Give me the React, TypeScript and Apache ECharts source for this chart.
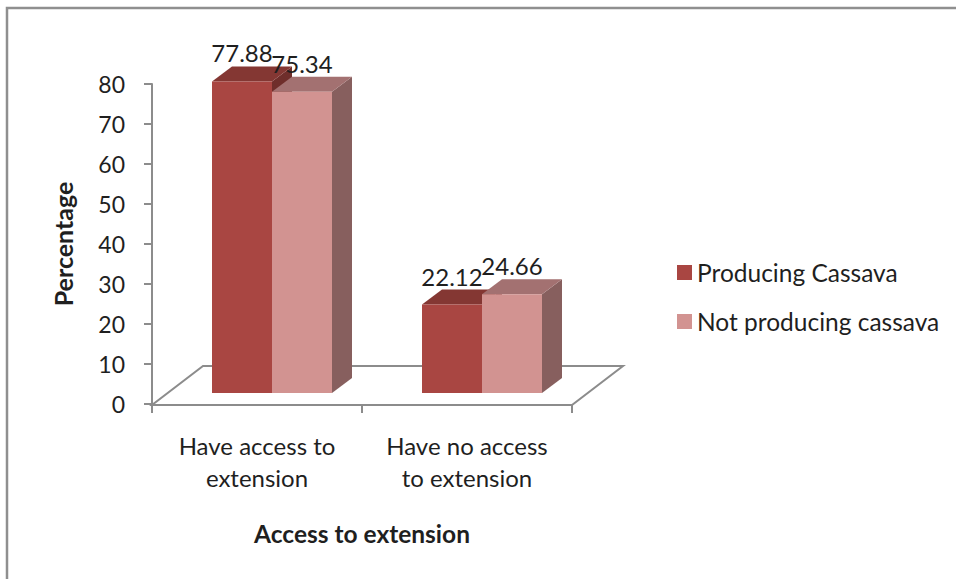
import React, { useEffect, useRef } from "react";
import * as echarts from "echarts";

const categories = ["Have access to\nextension", "Have no access\nto extension"];
const producing = [77.88, 22.12];
const notProducing = [75.34, 24.66];
const yTicks = { min: 0, max: 80, interval: 10 };

const seriesNames = ["Producing Cassava", "Not producing cassava"];
const FONT = "Lato, Carlito, sans-serif";
const AXIS_COLOR = "#8c8c8c";
const TEXT_COLOR = "#1f1f1f";

// Bars stand on a floor raised behind the axis plane, so each is nudged back
// from its band centre before the depth faces are added.
const FLOOR_SHIFT = { x: 15, y: -11 };
const DEPTH = { x: 20, y: -15 };
const BAR_RATIO = 60 / 210;

const palettes = [
  { front: "#a94642", top: "#843733", side: "#6f2e2b" },
  { front: "#d29391", top: "#a37171", side: "#875f5e" },
];

function prism(seriesIndex: number) {
  const colors = palettes[seriesIndex];
  return (_params: any, api: any) => {
    const cat = api.value(0);
    const val = api.value(1);
    const band = api.size([1, 0])[0];
    const w = band * BAR_RATIO;
    const top = api.coord([cat, val]);
    const base = api.coord([cat, 0]);
    const x0 = top[0] + FLOOR_SHIFT.x + (seriesIndex === 0 ? -w : 0);
    const x1 = x0 + w;
    const yTop = top[1] + FLOOR_SHIFT.y;
    const yBase = base[1] + FLOOR_SHIFT.y;
    const dx = DEPTH.x;
    const dy = DEPTH.y;
    return {
      type: "group",
      children: [
        {
          type: "polygon",
          shape: { points: [[x1, yTop], [x1 + dx, yTop + dy], [x1 + dx, yBase + dy], [x1, yBase]] },
          style: { fill: colors.side },
        },
        {
          type: "polygon",
          shape: { points: [[x0, yTop], [x0 + dx, yTop + dy], [x1 + dx, yTop + dy], [x1, yTop]] },
          style: { fill: colors.top },
        },
        {
          type: "rect",
          shape: { x: x0, y: yTop, width: w, height: yBase - yTop },
          style: { fill: colors.front },
        },
        {
          type: "text",
          z2: 50,
          style: {
            x: (x0 + x1) / 2,
            y: yTop - 28.5,
            text: val.toFixed(2),
            align: "center",
            verticalAlign: "middle",
            font: `24px ${FONT}`,
            fill: TEXT_COLOR,
          },
        },
      ],
    };
  };
}

// Outline of the chart floor, running back from the category axis.
function floor(_params: any, api: any) {
  const band = api.size([1, 0])[0];
  const mid = api.coord([0, 0]);
  const xL = mid[0] - band / 2;
  const xR = xL + band * categories.length;
  const y = mid[1] + 1;
  const back = { x: 51, y: -39 };
  return {
    type: "polygon",
    shape: { points: [[xL, y], [xR, y], [xR + back.x, y + back.y], [xL + back.x, y + back.y]] },
    style: { fill: "none", stroke: AXIS_COLOR, lineWidth: 2 },
  };
}

export default function App() {
  const ref = useRef<HTMLDivElement>(null);

  useEffect(() => {
    const chart = echarts.init(ref.current!, undefined, { renderer: "svg" });
    chart.setOption({
      animation: false,
      backgroundColor: "#ffffff",
      grid: { left: 152, right: 384, top: 84, bottom: 175 },
      legend: {
        orient: "vertical",
        left: 672,
        top: 255,
        itemWidth: 15,
        itemHeight: 15,
        itemGap: 24,
        icon: "rect",
        data: seriesNames,
        textStyle: { fontFamily: FONT, fontSize: 24.5, color: TEXT_COLOR },
      },
      xAxis: {
        type: "category",
        data: categories,
        boundaryGap: true,
        name: "Access to extension",
        nameLocation: "middle",
        nameGap: 117,
        nameTextStyle: { fontFamily: FONT, fontSize: 24.5, fontWeight: "bold", color: TEXT_COLOR },
        axisLine: { show: false },
        axisTick: { show: true, alignWithLabel: false, length: 9, lineStyle: { color: AXIS_COLOR, width: 2 } },
        axisLabel: { fontFamily: FONT, fontSize: 24, color: TEXT_COLOR, lineHeight: 32, margin: 25, interval: 0 },
      },
      yAxis: {
        type: "value",
        ...yTicks,
        name: "Percentage",
        nameLocation: "middle",
        nameGap: 77,
        nameTextStyle: { fontFamily: FONT, fontSize: 25, fontWeight: "bold", color: TEXT_COLOR },
        axisLine: { show: true, lineStyle: { color: AXIS_COLOR, width: 2 } },
        axisTick: { show: true, length: 8, lineStyle: { color: AXIS_COLOR, width: 2 } },
        axisLabel: { fontFamily: FONT, fontSize: 23, color: TEXT_COLOR, margin: 27 },
        splitLine: { show: false },
      },
      graphic: [
        {
          type: "polyline",
          silent: true,
          shape: { points: [[7, 579], [7, 8], [956, 8]] },
          style: { fill: "none", stroke: "#8f8f8f", lineWidth: 2.5 },
        },
      ],
      series: [
        {
          type: "custom",
          name: "floor",
          z: 1,
          silent: true,
          data: [[0, 0]],
          renderItem: floor,
        },
        {
          type: "custom",
          name: seriesNames[0],
          z: 2,
          itemStyle: { color: palettes[0].front },
          data: producing.map((v, i) => [i, v]),
          encode: { x: 0, y: 1 },
          renderItem: prism(0),
        },
        {
          type: "custom",
          name: seriesNames[1],
          z: 3,
          itemStyle: { color: palettes[1].front },
          data: notProducing.map((v, i) => [i, v]),
          encode: { x: 0, y: 1 },
          renderItem: prism(1),
        },
      ],
    });
    return () => chart.dispose();
  }, []);

  return <div ref={ref} style={{ position: "fixed", left: 0, top: 0, width: 956, height: 579 }} />;
}
